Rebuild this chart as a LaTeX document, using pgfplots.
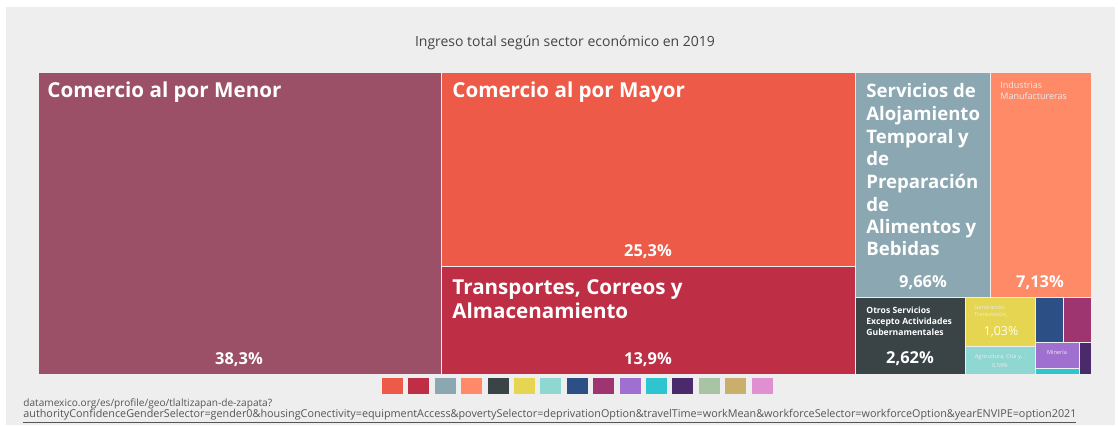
\documentclass[border=0pt]{standalone}
\usepackage{pgfplots}
\pgfplotsset{compat=1.18}
\usepackage{fontspec}
\setmainfont{Open Sans}

\definecolor{panel}{HTML}{EEEEEE}
\definecolor{cMenor}{HTML}{9B5068}
\definecolor{cMayor}{HTML}{EE5A48}
\definecolor{cTrans}{HTML}{BE2E44}
\definecolor{cAloj}{HTML}{8BA7B1}
\definecolor{cManuf}{HTML}{FF8A67}
\definecolor{cOtros}{HTML}{3A4447}
\definecolor{cYel}{HTML}{E5D550}
\definecolor{cAgri}{HTML}{8FD8D2}
\definecolor{cBlue}{HTML}{2C4F85}
\definecolor{cMag}{HTML}{9E3470}
\definecolor{cPurp}{HTML}{A070D0}
\definecolor{cCyan}{HTML}{2EC4D0}
\definecolor{cDPur}{HTML}{4A2A6A}
\definecolor{cSage}{HTML}{A9C4A4}
\definecolor{cTan}{HTML}{C9AE6E}
\definecolor{cPink}{HTML}{E08FD0}
\definecolor{foot}{HTML}{555555}
\definecolor{ttl}{HTML}{444444}

% rectangle in pixel units: x1, y1, x2, y2, colour
\newcommand{\rect}[5]{\addplot[fill=#5, draw=panel, line width=0.4pt]
  coordinates {(#1,#2) (#3,#2) (#3,#4) (#1,#4)} --cycle;}
\newcommand{\swatch}[2]{\addplot[fill=#2, draw=none]
  coordinates {(#1,378) (#1+21,378) (#1+21,394) (#1,394)} --cycle;}

\begin{document}
\begin{tikzpicture}
\begin{axis}[
  scale only axis, width=559pt, height=212.5pt,
  xmin=0, xmax=1118, ymin=0, ymax=425, y dir=reverse,
  hide axis, clip=false,
]
\addplot[fill=white, draw=none] coordinates {(0,0) (1118,0) (1118,425) (0,425)} --cycle;
\addplot[fill=panel, draw=none] coordinates {(6,7) (1115,7) (1115,425) (6,425)} --cycle;

% treemap tiles (share of total income, %): 38.3, 25.3, 13.9, 9.66, 7.13, 2.62, 1.03, ...
\rect{38}{72}{441}{374}{cMenor}
\rect{441}{72}{855}{266}{cMayor}
\rect{441}{266}{855}{374}{cTrans}
\rect{855}{72}{990}{297}{cAloj}
\rect{990}{72}{1091}{297}{cManuf}
\rect{855}{297}{965}{374}{cOtros}
\rect{965}{297}{1035}{346}{cYel}
\rect{965}{346}{1035}{374}{cAgri}
\rect{1035}{297}{1063}{342}{cBlue}
\rect{1063}{297}{1091}{342}{cMag}
\rect{1035}{342}{1079}{368}{cPurp}
\rect{1035}{368}{1079}{374}{cCyan}
\rect{1079}{342}{1091}{374}{cDPur}

% colour key
\swatch{382}{cMayor}
\swatch{408.4}{cTrans}
\swatch{434.8}{cAloj}
\swatch{461.2}{cManuf}
\swatch{487.6}{cOtros}
\swatch{514}{cYel}
\swatch{540.4}{cAgri}
\swatch{566.8}{cBlue}
\swatch{593.2}{cMag}
\swatch{619.6}{cPurp}
\swatch{646}{cCyan}
\swatch{672.4}{cDPur}
\swatch{698.8}{cSage}
\swatch{725.2}{cTan}
\swatch{751.6}{cPink}

% title
\node[anchor=base, text=ttl, font=\fontsize{7}{8}\selectfont] at (axis cs:565,46) {Ingreso total según sector económico en 2019};

% labels
\tikzset{big/.style={anchor=base west, text=white, inner sep=0pt,
  font=\fontsize{10.3}{12}\selectfont\bfseries}}
\tikzset{mid/.style={anchor=base west, text=white, inner sep=0pt,
  font=\fontsize{9.3}{11}\selectfont\bfseries}}
\tikzset{pct/.style={anchor=base, text=white, inner sep=0pt,
  font=\fontsize{8.2}{9}\selectfont\bfseries}}
\tikzset{tiny/.style={anchor=base west, text=white!92!black, inner sep=0pt}}

\node[big] at (axis cs:47,97) {Comercio al por Menor};
\node[big] at (axis cs:452,97) {Comercio al por Mayor};
\node[big] at (axis cs:452,294) {Transportes, Correos y};
\node[big] at (axis cs:452,318) {Almacenamiento};
\node[mid] at (axis cs:866,97) {Servicios de};
\node[mid] at (axis cs:866,120) {Alojamiento};
\node[mid] at (axis cs:866,143) {Temporal y};
\node[mid] at (axis cs:866,165) {de};
\node[mid] at (axis cs:866,188) {Preparación};
\node[mid] at (axis cs:866,211) {de};
\node[mid] at (axis cs:866,233) {Alimentos y};
\node[mid] at (axis cs:866,255) {Bebidas};

\node[tiny, font=\fontsize{4.5}{5.5}\selectfont] at (axis cs:1000,88) {Industrias};
\node[tiny, font=\fontsize{4.5}{5.5}\selectfont] at (axis cs:1000,99) {Manufactureras};
\node[tiny, text=white, font=\fontsize{4.3}{5}\selectfont\bfseries] at (axis cs:866,313) {Otros Servicios};
\node[tiny, text=white, font=\fontsize{4.3}{5}\selectfont\bfseries] at (axis cs:866,324) {Excepto Actividades};
\node[tiny, text=white, font=\fontsize{4.3}{5}\selectfont\bfseries] at (axis cs:866,335) {Gubernamentales};
\node[tiny, font=\fontsize{2.8}{3.6}\selectfont] at (axis cs:974,309) {Generación,};
\node[tiny, font=\fontsize{2.8}{3.6}\selectfont] at (axis cs:974,316) {Transmisión,};
\node[tiny, anchor=base, font=\fontsize{2.8}{3.6}\selectfont] at (axis cs:1000,358) {Agricultura, Cría y...};
\node[tiny, anchor=base, font=\fontsize{2.8}{3.6}\selectfont] at (axis cs:1000,367) {0,59\%};
\node[tiny, anchor=base, font=\fontsize{2.8}{3.6}\selectfont] at (axis cs:1057,354) {Minería};

\node[pct] at (axis cs:239,364) {38,3\%};
\node[pct] at (axis cs:648,256) {25,3\%};
\node[pct] at (axis cs:648,364) {13,9\%};
\node[pct] at (axis cs:923,287) {9,66\%};
\node[pct] at (axis cs:1040,287) {7,13\%};
\node[pct] at (axis cs:910,363) {2,62\%};
\node[pct, text=white!92!yellow, font=\fontsize{6.2}{8}\selectfont] at (axis cs:1001,335) {1,03\%};

% source
\node[anchor=base west, inner sep=0pt, text=foot, font=\fontsize{5.05}{6}\selectfont] at (axis cs:23,406) {datamexico.org/es/profile/geo/tlaltizapan-de-zapata?};
\node[anchor=base west, inner sep=0pt, text=foot, font=\fontsize{5.4}{6}\selectfont] at (axis cs:23,417) {\underline{authorityConfidenceGenderSelector=gender0\&housingConectivity=equipmentAccess\&povertySelector=deprivationOption\&travelTime=workMean\&workforceSelector=workforceOption\&yearENVIPE=option2021}};
\end{axis}
\end{tikzpicture}
\end{document}
